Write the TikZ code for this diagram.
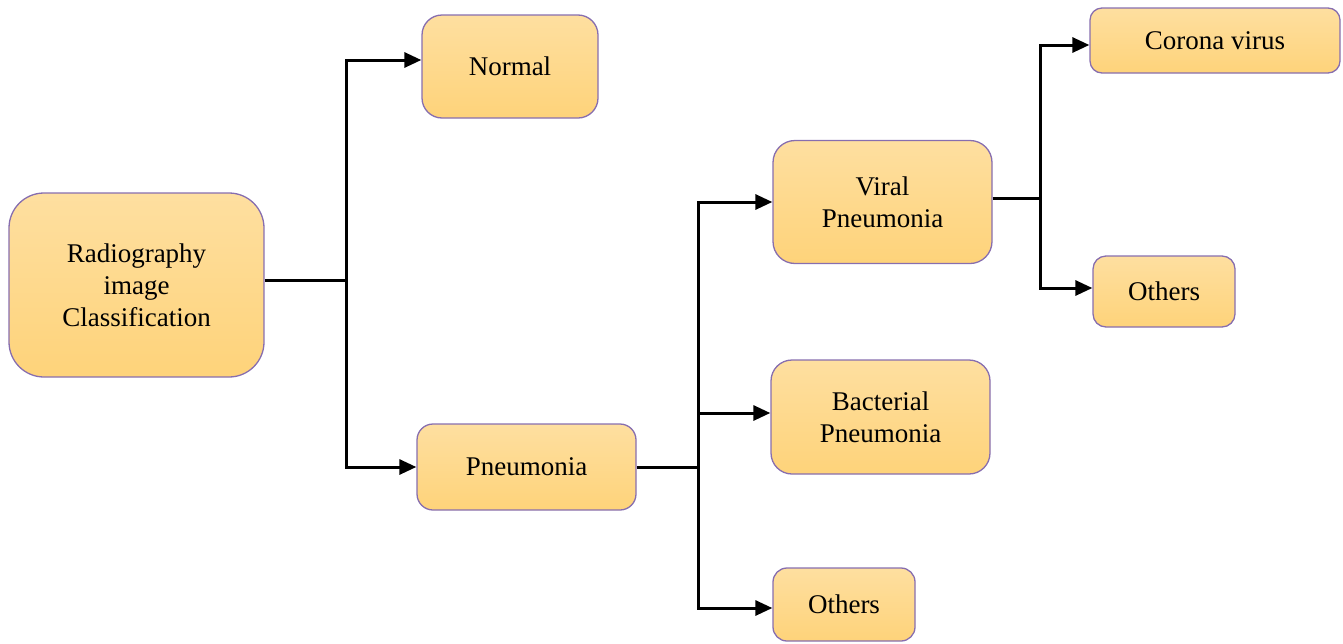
\documentclass[tikz,border=0pt]{standalone}
\usepackage{fontspec}
\setmainfont{Liberation Serif}
\usetikzlibrary{arrows.meta}
\definecolor{boxtop}{RGB}{254,223,160}
\definecolor{boxbot}{RGB}{254,211,122}
\definecolor{boxedge}{RGB}{135,110,175}
\tikzset{
  box/.style={draw=boxedge, line width=1.3pt, top color=boxtop, bottom color=boxbot,
    inner sep=0pt, align=center, font=\fontsize{27}{32}\selectfont},
  conn/.style={line width=3pt, line join=miter},
  arr/.style={conn, -{Triangle[length=17pt,width=15pt]}}
}
\begin{document}
\begin{tikzpicture}[x=1pt,y=1pt]
\useasboundingbox (0,0) rectangle (1343,-643);
\node[box, minimum width=255pt, minimum height=184pt, rounded corners=35pt] (root) at (136.5,-285) {Radiography\\image\\Classification};
\node[box, minimum width=176pt, minimum height=103pt, rounded corners=20pt] (normal) at (510,-66.5) {Normal};
\node[box, minimum width=219pt, minimum height=86pt, rounded corners=16pt] (pneu) at (526.5,-467) {Pneumonia};
\node[box, minimum width=219pt, minimum height=123pt, rounded corners=22pt] (viral) at (882.5,-202) {Viral\\Pneumonia};
\node[box, minimum width=219pt, minimum height=114pt, rounded corners=21pt] (bact) at (880.5,-417) {Bacterial\\Pneumonia};
\node[box, minimum width=142pt, minimum height=73pt, rounded corners=14pt] (oth1) at (844,-604.5) {Others};
\node[box, minimum width=250pt, minimum height=65pt, rounded corners=12pt] (corona) at (1215,-40.5) {Corona virus};
\node[box, minimum width=142pt, minimum height=71pt, rounded corners=13pt] (oth2) at (1164,-291.5) {Others};

\coordinate (b1) at (346,-280);
\coordinate (b2) at (698,-467);
\coordinate (b3) at (1040,-198);

\draw[conn] ([yshift=5pt]root.east) -- (b1);
\draw[arr] (b1) |- ([yshift=6.5pt]normal.west);
\draw[arr] (b1) |- (pneu.west);

\draw[conn] (pneu.east) -- (b2);
\draw[arr] (b2) |- (viral.west);
\draw[arr] (b2) |- ([yshift=4pt]bact.west);
\draw[arr] (b2) |- ([yshift=-3.5pt]oth1.west);

\draw[conn] ([yshift=4pt]viral.east) -- (b3);
\draw[arr] (b3) |- ([yshift=-4.5pt]corona.west);
\draw[arr] (b3) |- ([yshift=3.5pt]oth2.west);
\end{tikzpicture}
\end{document}
